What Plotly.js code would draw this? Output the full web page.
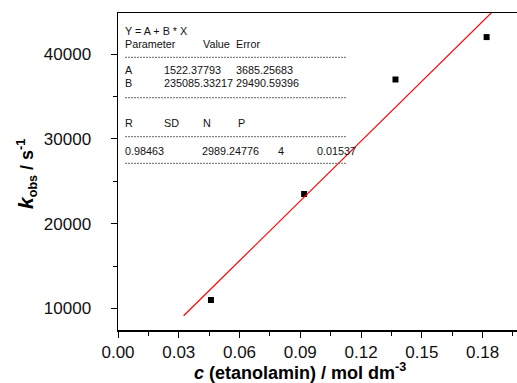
<!DOCTYPE html>
<html><head><meta charset="utf-8">
<script src="https://cdn.plot.ly/plotly-3.0.1.min.js"></script>
<style>html,body{margin:0;padding:0;overflow:hidden;background:#fff}</style>
</head><body>
<div id="chart" style="width:517px;height:383px"></div>
<script>
// Data
const concX = [0.0459, 0.0919, 0.137, 0.182];
const kObs = [11000, 23500, 37000, 42000];
// Linear fit parameters (from the chart's table)
const fitA = 1522.37793;
const fitB = 235085.33217;
const fitXRange = [0.0324, 0.195];
const xTickVals = [0.00, 0.03, 0.06, 0.09, 0.12, 0.15, 0.18];
const xTickText = ["0.00", "0.03", "0.06", "0.09", "0.12", "0.15", "0.18"];
const yTickVals = [10000, 20000, 30000, 40000];
const yTickText = ["10000", "20000", "30000", "40000"];
// Table rows: [text, leftPx, rowIndex]
const tableRows = [
  ["Y = A + B * X", 125, 0],
  ["Parameter", 125, 1], ["Value", 203, 1], ["Error", 235.5, 1],
  ["A", 125, 2], ["1522.37793", 163.5, 2], ["3685.25683", 235.5, 2],
  ["B", 125, 3], ["235085.33217", 163.5, 3], ["29490.59396", 235.5, 3],
  ["R", 125, 4], ["SD", 163.5, 4], ["N", 203, 4], ["P", 238, 4],
  ["0.98463", 125, 5], ["2989.24776", 202, 5], ["4", 278.3, 5], ["0.01537", 316.7, 5]
];
const rowY = [30.7, 43.7, 70.3, 83.3, 122.7, 150.7];
const dashY = [57.3, 97.7, 136.7, 163.3];

const L = 118, R = 517, T = 13, B = 330;
const px = x => (x - L) / (R - L);
const py = y => (B - y) / (B - T);

const fitY = fitXRange.map(x => fitA + fitB * x);

const font = "Liberation Sans, Arial, sans-serif";

const traces = [
  {x: concX, y: kObs, mode: 'markers', marker: {symbol: 'square', size: 6, color: '#000'}},
  {x: fitXRange, y: fitY, mode: 'lines', line: {color: 'rgb(255,0,0)', width: 1.2}, hoverinfo: 'skip'}
];

const annotations = tableRows.map(r => ({
  text: r[0], xref: 'paper', yref: 'paper', x: px(r[1] - 2), y: py(rowY[r[2]]),
  xanchor: 'left', yanchor: 'middle', showarrow: false,
  font: {family: font, size: 10.8, color: '#111'}
}));
annotations.push({
  text: "<b><i>c</i> (etanolamin) / mol dm<sup>-3</sup></b>",
  xref: 'paper', yref: 'paper', x: px(299.7), y: py(371),
  xanchor: 'center', yanchor: 'middle', showarrow: false,
  font: {family: font, size: 18, color: '#000'}
});
annotations.push({
  text: "<b><i><span style='font-size:21px'>k</span></i><sub>obs</sub> / s<sup>-1</sup></b>",
  xref: 'paper', yref: 'paper', x: px(27), y: py(174),
  xanchor: 'center', yanchor: 'middle', textangle: -90, showarrow: false,
  font: {family: font, size: 18, color: '#000'}
});

const shapes = dashY.map(y => ({
  type: 'line', xref: 'paper', yref: 'paper', x0: px(125), x1: px(346.7), y0: py(y), y1: py(y),
  line: {color: '#666', width: 1, dash: '2px,1px'}
}));

const layout = {
  width: 517, height: 383,
  margin: {l: L, r: 0, t: T, b: 383 - B},
  paper_bgcolor: '#fff', plot_bgcolor: '#fff',
  showlegend: false,
  font: {family: font, color: '#000'},
  xaxis: {
    range: [0, 0.197], showgrid: false, zeroline: false,
    showline: true, mirror: true, linecolor: '#000', linewidth: 1.5,
    tickmode: 'array', tickvals: xTickVals, ticktext: xTickText,
    ticks: 'outside', ticklen: 6, tickwidth: 1, tickcolor: '#000',
    tickfont: {family: font, size: 17, color: '#111'},
    minor: {dtick: 0.015, tick0: 0, ticks: 'outside', ticklen: 4, tickcolor: '#000'}
  },
  yaxis: {
    range: [7460, 44840], showgrid: false, zeroline: false,
    showline: true, linecolor: '#000', linewidth: 1.5,
    tickmode: 'array', tickvals: yTickVals, ticktext: yTickText,
    ticks: 'outside', ticklen: 6, tickwidth: 1, tickcolor: '#000',
    ticklabelstandoff: 16,
    tickfont: {family: font, size: 17, color: '#111'},
    minor: {dtick: 5000, tick0: 0, ticks: 'outside', ticklen: 4, tickcolor: '#000'}
  },
  annotations: annotations,
  shapes: shapes
};

Plotly.newPlot('chart', traces, layout, {staticPlot: true, displayModeBar: false});
</script>
</body></html>
